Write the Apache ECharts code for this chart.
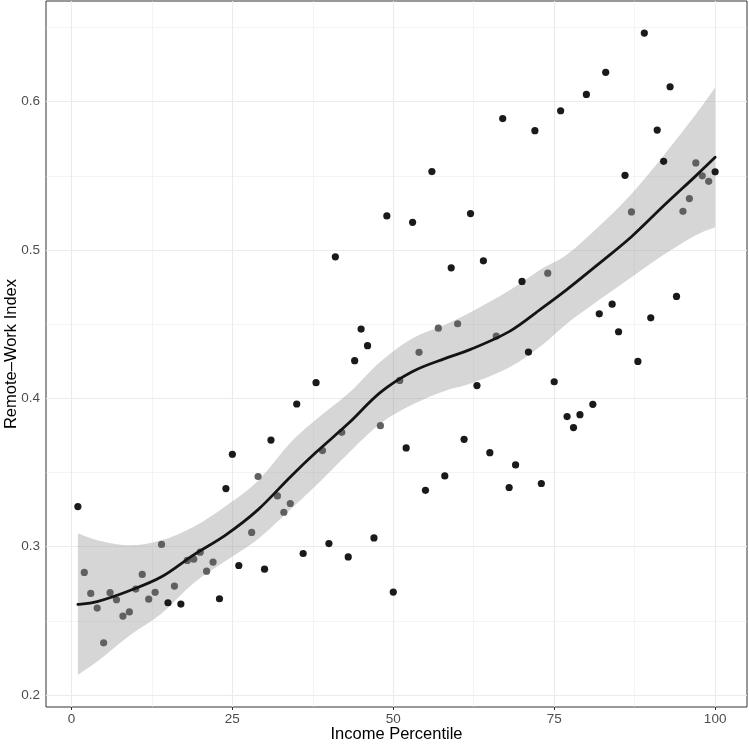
<!DOCTYPE html>
<html><head><meta charset="utf-8">
<script src="https://cdn.jsdelivr.net/npm/echarts@6/dist/echarts.min.js"></script>
<style>html,body{margin:0;padding:0;background:#fff}#c{width:749px;height:745px}</style>
</head><body><div id="c"></div>
<script>
// observed points (income percentile, remote-work index)
const percentile = [1,2,3,4,5,6,7,8,9,10,11,12,13,14,15,16,17,18,19,20,21,22,23,24,25,26,28,29,30,31,32,33,34,35,36,38,39,40,41,42,43,44,45,46,47,48,49,50,51,52,53,54,55,56,57,58,59,60,61,62,63,64,65,66,67,68,69,70,71,72,73,74,75,76,77,78,79,80,81,82,83,84,85,86,87,88,89,90,91,92,93,94,95,96,97,98,99,100];
const remoteIndex = [0.327,0.2826,0.2685,0.2586,0.2352,0.269,0.2642,0.2532,0.256,0.2714,0.2813,0.2646,0.2692,0.3015,0.2622,0.2734,0.2613,0.2907,0.2916,0.2963,0.2835,0.2896,0.2649,0.3392,0.3623,0.2873,0.3096,0.3473,0.2848,0.3719,0.3342,0.3232,0.3291,0.3962,0.2954,0.4106,0.3648,0.3021,0.4954,0.3771,0.2931,0.4254,0.4467,0.4355,0.3059,0.3816,0.523,0.2694,0.4121,0.3666,0.5187,0.431,0.338,0.5529,0.4473,0.3477,0.488,0.4503,0.3724,0.5246,0.4086,0.4927,0.3634,0.442,0.5886,0.3399,0.3551,0.4788,0.4312,0.5805,0.3426,0.4844,0.4112,0.5939,0.3877,0.3803,0.389,0.6049,0.396,0.457,0.6198,0.4635,0.4449,0.5504,0.5257,0.4249,0.6463,0.4543,0.5809,0.5598,0.6101,0.4687,0.5261,0.5347,0.5587,0.55,0.5463,0.5527];
// points that appear grey (inside the confidence ribbon)
const greyPercentiles = [2,3,4,5,6,7,8,9,10,11,12,13,14,16,18,19,20,21,22,28,29,32,33,34,39,42,48,51,54,57,60,66,74,87,95,96,97,98,99];
// smoothed fit and its confidence band
const fitX = [1,4,9,14,19,24,29,34,38,43,48,53,58,62,68,73,77,82,87,92,97,100];
const fitY = [0.2611,0.2630,0.2703,0.2797,0.2945,0.3080,0.3250,0.3470,0.3636,0.3830,0.4040,0.4181,0.4268,0.4330,0.4450,0.4605,0.4735,0.4910,0.5090,0.5298,0.5500,0.5625];
const fitLower = [0.2135,0.2225,0.2400,0.2550,0.2755,0.2905,0.3052,0.3250,0.3412,0.3628,0.3830,0.3958,0.4050,0.4100,0.4208,0.4355,0.4505,0.4665,0.4817,0.4968,0.5100,0.5154];
const fitUpper = [0.3090,0.3044,0.3010,0.3044,0.3135,0.3275,0.3445,0.3700,0.3858,0.4032,0.4247,0.4405,0.4495,0.4580,0.4727,0.4872,0.4970,0.5162,0.5378,0.5637,0.5915,0.6096];
// axes
const xTicks = [0,25,50,75,100];
const xMinor = [12.5,37.5,62.5,87.5];
const yTicks = [0.2,0.3,0.4,0.5,0.6];
const yMinor = [0.25,0.35,0.45,0.55,0.65];
const xRange = [-3.95, 104.95];
const yRange = [0.1919, 0.6679];

const greyPts = [], blackPts = [];
percentile.forEach((p, i) => {
  (greyPercentiles.includes(p) ? greyPts : blackPts).push([p, remoteIndex[i]]);
});

const gridLines = [];
xTicks.forEach(v => gridLines.push({xAxis: v, lineStyle: {width: 1.1}}));
xMinor.forEach(v => gridLines.push({xAxis: v, lineStyle: {width: 0.55}}));
yTicks.forEach(v => gridLines.push({yAxis: v, lineStyle: {width: 1.1}}));
yMinor.forEach(v => gridLines.push({yAxis: v, lineStyle: {width: 0.55}}));

// Catmull-Rom spline through pixel points -> SVG path segments
function splinePath(pts, start) {
  let d = start ? 'M' + pts[0][0] + ' ' + pts[0][1] : 'L' + pts[0][0] + ' ' + pts[0][1];
  for (let i = 0; i < pts.length - 1; i++) {
    const p0 = pts[Math.max(i - 1, 0)], p1 = pts[i], p2 = pts[i + 1], p3 = pts[Math.min(i + 2, pts.length - 1)];
    const c1 = [p1[0] + (p2[0] - p0[0]) / 6, p1[1] + (p2[1] - p0[1]) / 6];
    const c2 = [p2[0] - (p3[0] - p1[0]) / 6, p2[1] - (p3[1] - p1[1]) / 6];
    d += ' C' + c1[0] + ' ' + c1[1] + ' ' + c2[0] + ' ' + c2[1] + ' ' + p2[0] + ' ' + p2[1];
  }
  return d;
}

function renderBand(params, api) {
  const up = fitX.map((x, i) => api.coord([x, fitUpper[i]]));
  const lo = fitX.map((x, i) => api.coord([x, fitLower[i]])).reverse();
  const d = splinePath(up, true) + ' ' + splinePath(lo, false) + ' Z';
  return {type: 'path', shape: {pathData: d}, style: {fill: 'rgba(153,153,153,0.4)', stroke: null}};
}
function renderFit(params, api) {
  const pts = fitX.map((x, i) => api.coord([x, fitY[i]]));
  return {type: 'path', shape: {pathData: splinePath(pts, true)},
    style: {fill: null, stroke: '#141414', lineWidth: 2.8, lineCap: 'round', lineJoin: 'round'}};
}

const font = '"Liberation Sans", Arial, Helvetica, sans-serif';
const chart = echarts.init(document.getElementById('c'), null, {renderer: 'canvas'});
chart.setOption({
  animation: false,
  backgroundColor: '#ffffff',
  grid: {left: 46, top: 1, width: 701, height: 706, containLabel: false, outerBoundsMode: 'none',
    show: true, borderColor: '#333333', borderWidth: 1, backgroundColor: 'transparent'},
  xAxis: {
    type: 'value', min: xRange[0], max: xRange[1],
    name: 'Income Percentile', nameLocation: 'middle', nameGap: 19, nameMoveOverlap: false,
    nameTextStyle: {fontFamily: font, fontSize: 16.5, color: '#000'},
    axisLine: {show: false},
    axisTick: {show: true, length: 3, customValues: xTicks, lineStyle: {color: '#333', width: 1}},
    axisLabel: {customValues: xTicks, margin: 5, fontFamily: font, fontSize: 13.5, color: '#4d4d4d'},
    splitLine: {show: false}
  },
  yAxis: {
    type: 'value', min: yRange[0], max: yRange[1],
    name: 'Remote–Work Index', nameLocation: 'middle', nameGap: 26, nameMoveOverlap: false,
    nameTextStyle: {fontFamily: font, fontSize: 16.5, color: '#000'},
    axisLine: {show: false},
    axisTick: {show: true, length: 3, customValues: yTicks, lineStyle: {color: '#333', width: 1}},
    axisLabel: {customValues: yTicks, margin: 6, fontFamily: font, fontSize: 13.5, color: '#4d4d4d',
      formatter: v => v.toFixed(1)},
    splitLine: {show: false}
  },
  series: [
    {type: 'scatter', data: [], z: 1, silent: true,
     markLine: {silent: true, symbol: 'none', z: 1, animation: false, label: {show: false},
       emphasis: {disabled: true},
       lineStyle: {color: '#ebebeb', type: 'solid'}, data: gridLines}},
    {type: 'custom', data: [[0]], renderItem: renderBand, z: 2, silent: true, clip: true},
    {type: 'scatter', data: greyPts, symbolSize: 7.2, z: 3, itemStyle: {color: '#606060', opacity: 1}},
    {type: 'scatter', data: blackPts, symbolSize: 7.2, z: 3, itemStyle: {color: '#1a1a1a', opacity: 1}},
    {type: 'custom', data: [[0]], renderItem: renderFit, z: 4, silent: true, clip: true}
  ]
});
</script>
</body></html>
